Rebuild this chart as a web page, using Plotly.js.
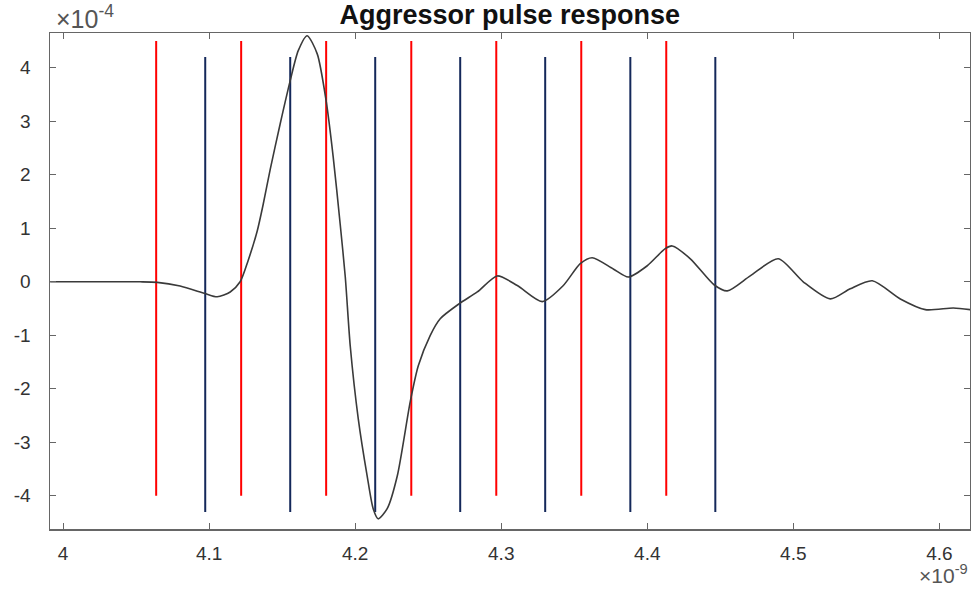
<!DOCTYPE html>
<html>
<head>
<meta charset="utf-8">
<script src="https://cdn.plot.ly/plotly-3.0.1.min.js"></script>
<style>html,body{margin:0;padding:0;background:#fff;}#chart{width:971px;height:592px;}</style>
</head>
<body>
<div id="chart"></div>
<script>
// time in units of 1e-9 s, response in units of 1e-4
const timeNs = [3.9911, 4.0253, 4.0527, 4.0644, 4.0801, 4.0973, 4.1055, 4.1144, 4.1212, 4.1267,
  4.1329, 4.1370, 4.1418, 4.1486, 4.1555, 4.1610, 4.1671, 4.1740, 4.1801, 4.1849,
  4.1897, 4.1932, 4.1966, 4.2021, 4.2082, 4.2123, 4.2158, 4.2219, 4.2288, 4.2377,
  4.2432, 4.2514, 4.2582, 4.2712, 4.2836, 4.2973, 4.3110, 4.3281, 4.3425, 4.3541,
  4.3623, 4.3767, 4.3870, 4.4000, 4.4123, 4.4171, 4.4295, 4.4459, 4.4548, 4.4705,
  4.4897, 4.5068, 4.5253, 4.5390, 4.5541, 4.5733, 4.5904, 4.6096, 4.6212];
const response = [0, 0, 0, -0.01, -0.08, -0.22, -0.28, -0.19, 0.0, 0.4,
  0.95, 1.45, 2.1, 2.95, 3.76, 4.32, 4.6, 4.26, 3.38, 2.34,
  1.08, 0.09, -1.2, -2.56, -3.63, -4.24, -4.43, -4.24, -3.63, -2.24,
  -1.57, -1.0, -0.69, -0.41, -0.19, 0.11, -0.07, -0.37, -0.07, 0.34,
  0.45, 0.24, 0.09, 0.30, 0.62, 0.67, 0.43, -0.06, -0.17, 0.11,
  0.43, 0.0, -0.32, -0.13, 0.02, -0.32, -0.52, -0.49, -0.52];
const redTimes = [4.0637, 4.1219, 4.1801, 4.2384, 4.2966, 4.3548, 4.4130];
const redSpan = [-4.0, 4.5];
const blueTimes = [4.0973, 4.1555, 4.2137, 4.2719, 4.3301, 4.3884, 4.4466];
const blueSpan = [-4.3, 4.2];
const xTicks = [4, 4.1, 4.2, 4.3, 4.4, 4.5, 4.6];
const xTickText = ['4', '4.1', '4.2', '4.3', '4.4', '4.5', '4.6'];
const yTicks = [-4, -3, -2, -1, 0, 1, 2, 3, 4];
const yTickText = ['-4', '-3', '-2', '-1', '0', '1', '2', '3', '4'];

function segs(times, span) {
  const x = [], y = [];
  times.forEach(t => { x.push(t, t, null); y.push(span[0], span[1], null); });
  return {x, y};
}
const r = segs(redTimes, redSpan);
const b = segs(blueTimes, blueSpan);

const traces = [
  {x: r.x, y: r.y, mode: 'lines', line: {color: '#ff0000', width: 2}, hoverinfo: 'skip', showlegend: false},
  {x: b.x, y: b.y, mode: 'lines', line: {color: '#14285a', width: 2}, hoverinfo: 'skip', showlegend: false},
  {x: timeNs, y: response, mode: 'lines', line: {color: '#3a3a3a', width: 1.6, shape: 'spline', smoothing: 0.7}, showlegend: false}
];

const FF = 'Liberation Sans, Arial, sans-serif';
const axisFont = {family: FF, size: 19, color: '#333333'};
const layout = {
  width: 971, height: 592,
  margin: {l: 50, r: 1, t: 33, b: 63},
  paper_bgcolor: '#ffffff', plot_bgcolor: '#ffffff',
  title: {text: '<b>Aggressor pulse response</b>', x: 0.525, xanchor: 'center', y: 0.976, yanchor: 'middle',
    font: {family: FF, size: 27, color: '#111111'}},
  xaxis: {range: [3.991, 4.621], tickvals: xTicks, ticktext: xTickText, ticks: 'inside', ticklen: 6,
    tickcolor: '#666666', showline: true, linecolor: '#666666', linewidth: 1.5, mirror: 'ticks',
    showgrid: false, zeroline: false, tickfont: axisFont, ticklabelstandoff: 7},
  yaxis: {range: [-4.62, 4.65], tickvals: yTicks, ticktext: yTickText, ticks: 'inside', ticklen: 6,
    tickcolor: '#666666', showline: true, linecolor: '#666666', linewidth: 1.5, mirror: 'ticks',
    showgrid: false, zeroline: false, tickfont: axisFont, ticklabelstandoff: 14},
  annotations: [
    {text: '×10<sup>-4</sup>', xref: 'paper', yref: 'paper', x: 0.004, y: 0.995, xanchor: 'left', yanchor: 'bottom',
      showarrow: false, font: {family: FF, size: 25, color: '#555555'}},
    {text: '×10<sup>-9</sup>', xref: 'paper', yref: 'paper', x: 1.0, y: -0.06, xanchor: 'right', yanchor: 'top',
      showarrow: false, font: {family: FF, size: 21, color: '#555555'}}
  ]
};
Plotly.newPlot('chart', traces, layout, {displayModeBar: false, staticPlot: true});
</script>
</body>
</html>
